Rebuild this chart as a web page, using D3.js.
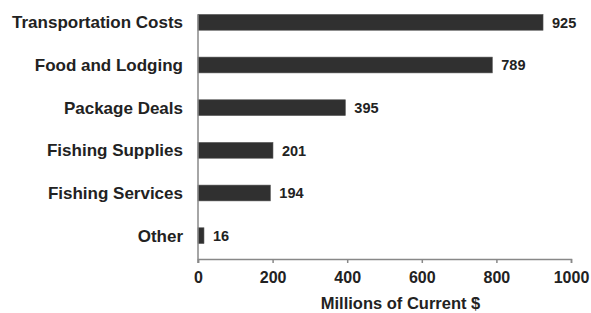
<!DOCTYPE html>
<html>
<head>
<meta charset="utf-8">
<script src="https://cdn.jsdelivr.net/npm/d3@7"></script>
<style>
  body { margin: 0; background: #fff; }
  text { font-family: "Liberation Sans", Arial, sans-serif; font-weight: bold; fill: #222; }
</style>
</head>
<body>
<script>
var categories = ["Transportation Costs", "Food and Lodging", "Package Deals",
                  "Fishing Supplies", "Fishing Services", "Other"];
var values = [925, 789, 395, 201, 194, 16];
var xTicks = [0, 200, 400, 600, 800, 1000];
var axisTitle = "Millions of Current $";

var margin = {top: 1, right: 20, bottom: 54, left: 198},
    width = 373,
    height = 258;

var svg = d3.select("body").append("svg")
    .attr("width", 591)
    .attr("height", 313);

var g = svg.append("g")
    .attr("transform", "translate(" + margin.left + "," + margin.top + ")");

var xScale = d3.scaleLinear().domain([0, 1000]).range([0, width]);
var yScale = d3.scaleBand()
    .domain(categories)
    .range([0, height - 2])
    .paddingInner(0.63)
    .paddingOuter(0.315);

// bars
g.selectAll("rect.bar")
  .data(values)
  .enter().append("rect")
    .attr("class", "bar")
    .attr("x", xScale(0))
    .attr("y", function(d, i) { return yScale(categories[i]); })
    .attr("width", function(d) { return xScale(d) - xScale(0); })
    .attr("height", yScale.bandwidth())
    .attr("fill", "#303030")
    .attr("stroke", "#555")
    .attr("stroke-width", 0.6);

// value labels
g.selectAll("text.val")
  .data(values)
  .enter().append("text")
    .attr("class", "val")
    .attr("x", function(d) { return xScale(d) + 9; })
    .attr("y", function(d, i) { return yScale(categories[i]) + yScale.bandwidth() / 2; })
    .attr("dy", "0.36em")
    .attr("font-size", "14.5px")
    .text(function(d) { return d; });

// category labels
g.selectAll("text.cat")
  .data(categories)
  .enter().append("text")
    .attr("class", "cat")
    .attr("x", -15)
    .attr("y", function(d) { return yScale(d) + yScale.bandwidth() / 2; })
    .attr("dy", "0.36em")
    .attr("text-anchor", "end")
    .attr("font-size", "17px")
    .text(function(d) { return d; });

// y axis line (starts at top of first bar)
g.append("line")
    .attr("x1", xScale(0)).attr("x2", xScale(0))
    .attr("y1", yScale(categories[0]))
    .attr("y2", height + 4)
    .attr("stroke", "#888")
    .attr("stroke-width", 1.5);

// x axis
var xAxis = g.append("g")
    .attr("class", "axis axis--x")
    .attr("transform", "translate(0," + height + ")")
    .call(d3.axisBottom(xScale).tickValues(xTicks).tickFormat(d3.format("d"))
            .tickSizeOuter(0).tickSize(4));

xAxis.select(".domain").attr("stroke", "#888").attr("stroke-width", 1.5);
xAxis.selectAll(".tick line").attr("stroke", "#888").attr("stroke-width", 1.5);
xAxis.selectAll(".tick text")
    .attr("y", 13)
    .attr("font-size", "16px")
    .attr("font-family", "Liberation Sans, Arial, sans-serif")
    .attr("font-weight", "bold")
    .attr("fill", "#222");

// axis title
g.append("text")
    .attr("x", width / 2 + 16)
    .attr("y", height + 50)
    .attr("text-anchor", "middle")
    .attr("font-size", "16.5px")
    .text(axisTitle);
</script>
</body>
</html>
